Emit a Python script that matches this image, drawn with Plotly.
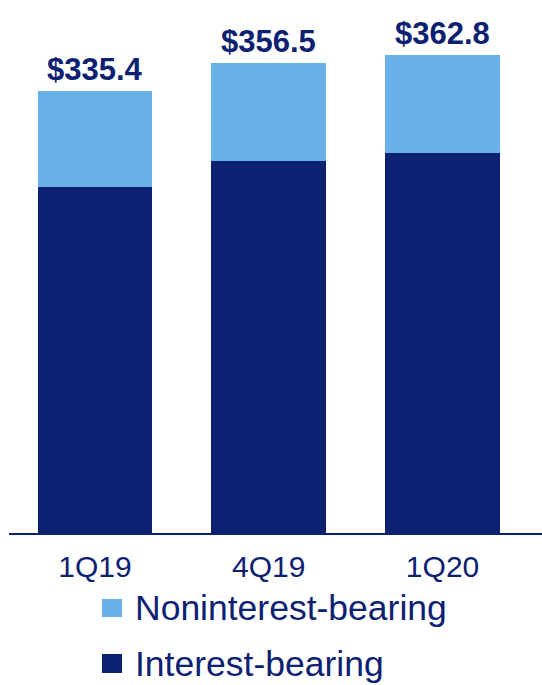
import plotly.graph_objects as go

# Deposit balances ($B) by quarter
quarters = ["1Q19", "4Q19", "1Q20"]
interest_bearing = [262.1, 281.8, 288.2]
noninterest_bearing = [73.3, 74.7, 74.6]
series_names = ["Noninterest-bearing", "Interest-bearing"]

NAVY = "#0D2173"
LIGHT = "#67B1E8"
FONT = "Liberation Sans, Arial, sans-serif"

totals = [round(a + b, 1) for a, b in zip(interest_bearing, noninterest_bearing)]

fig = go.Figure()
fig.add_trace(go.Bar(x=quarters, y=interest_bearing, name=series_names[1],
                     marker=dict(color=NAVY, line=dict(width=0)), showlegend=False))
fig.add_trace(go.Bar(x=quarters, y=noninterest_bearing, name=series_names[0],
                     marker=dict(color=LIGHT, line=dict(width=0)), showlegend=False))

# Total labels above each stack
for q, t in zip(quarters, totals):
    fig.add_annotation(x=q, y=t, text=f"<b>${t:.1f}</b>", showarrow=False,
                       xanchor="center", yanchor="bottom", yshift=2,
                       font=dict(family=FONT, size=31, color=NAVY))

# Legend drawn below the axis: colour swatch + label
legend_rows = [(series_names[0], LIGHT, -0.1238, -0.1576, -0.1398),
               (series_names[1], NAVY, -0.2270, -0.2627, -0.2450)]
for name, color, y0, y1, ytxt in legend_rows:
    fig.add_shape(type="rect", xref="paper", yref="paper",
                  x0=0.1745, x1=0.2120, y0=y0, y1=y1,
                  fillcolor=color, line=dict(width=0))
    fig.add_annotation(xref="paper", yref="paper", x=0.2318, y=ytxt,
                       text=name, showarrow=False, xanchor="left", yanchor="middle",
                       font=dict(family=FONT, size=35.5, color=NAVY))

fig.update_layout(
    barmode="stack",
    bargap=0.34,
    width=542, height=685,
    margin=dict(l=9, r=0, t=0, b=152),
    plot_bgcolor="white", paper_bgcolor="white",
    showlegend=False,
    xaxis=dict(range=[-0.494, 2.572], showline=True, linecolor=NAVY, linewidth=1.5,
               ticks="", showgrid=False, zeroline=False, ticklabelstandoff=6,
               tickfont=dict(family=FONT, size=30, color=NAVY)),
    yaxis=dict(range=[0, 404.2], visible=False, showgrid=False, zeroline=False),
)

fig.write_html("out.html")
